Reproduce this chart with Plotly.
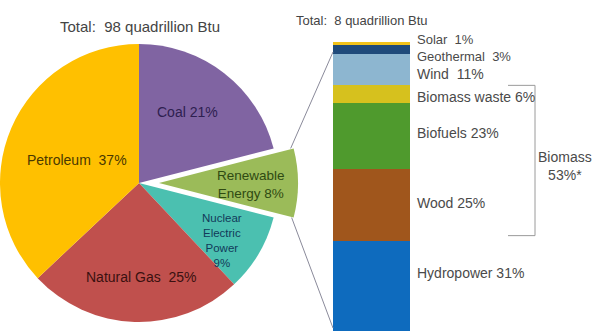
import math
import plotly.graph_objects as go

# ---- data ----
pie_labels = ["Coal", "Renewable Energy", "Nuclear Electric Power", "Natural Gas", "Petroleum"]
pie_values = [21, 8, 9, 25, 37]
pie_colors = ["#8064A2", "#9BBB59", "#4BC0B0", "#C0504D", "#FFC000"]
pie_text = ["Coal 21%", "Renewable<br>Energy 8%", "Nuclear<br>Electric<br>Power<br>9%",
            "Natural Gas  25%", "Petroleum  37%"]

ren_labels = ["Hydropower", "Wood", "Biofuels", "Biomass waste", "Wind", "Geothermal", "Solar"]
ren_values = [31, 25, 23, 6, 11, 3, 1]
ren_colors = ["#0E6BBE", "#A0561C", "#4F9A2D", "#D6C11E", "#8DB6D0", "#1F4A7A", "#F2C21A"]
ren_text = ["Hydropower 31%", "Wood 25%", "Biofuels 23%", "Biomass waste 6%",
            "Wind  11%", "Geothermal  3%", "Solar  1%"]

biomass_parts = ["Wood", "Biofuels", "Biomass waste"]
biomass_label = "Biomass<br>53%*"
title_left = "Total:  98 quadrillion Btu"
title_right = "Total:  8 quadrillion Btu"

# ---- layout geometry (pixels) ----
W, H = 593, 331
cx, cy, r = 139, 183, 139     # pie centre / radius
pull_px = 20                  # exploded renewable slice offset
bar_x0, bar_x1, bar_top = 333, 410, 42
FONT = "Liberation Sans, Arial, sans-serif"

def px(x):
    return x / W

def py(y):
    return 1 - y / H

fig = go.Figure()

# main pie (renewable slice left empty -> gap)
main_colors = [c if l != "Renewable Energy" else "rgba(0,0,0,0)" for l, c in zip(pie_labels, pie_colors)]
fig.add_trace(go.Pie(
    labels=pie_labels, values=pie_values, sort=False, direction="clockwise", rotation=0,
    marker=dict(colors=main_colors, line=dict(width=0)), textinfo="none",
    domain=dict(x=[px(cx - r), px(cx + r)], y=[py(cy + r), py(cy - r)]),
    showlegend=False, hoverinfo="label+percent"))

# exploded renewable slice
ex_colors = [c if l == "Renewable Energy" else "rgba(0,0,0,0)" for l, c in zip(pie_labels, pie_colors)]
fig.add_trace(go.Pie(
    labels=pie_labels, values=pie_values, sort=False, direction="clockwise", rotation=0,
    marker=dict(colors=ex_colors, line=dict(width=0)), textinfo="none",
    domain=dict(x=[px(cx - r + pull_px), px(cx + r + pull_px)], y=[py(cy + r), py(cy - r)]),
    showlegend=False, hoverinfo="skip"))

# stacked renewable bar
for lab, val, col in zip(ren_labels, ren_values, ren_colors):
    fig.add_trace(go.Bar(x=[0], y=[val], name=lab, marker=dict(color=col, line=dict(width=0)),
                         width=1, showlegend=False, xaxis="x", yaxis="y"))

# pie labels (annotations)
pie_pos = {
    "Coal": (187, 112, 14, "#2e2050"),
    "Renewable Energy": (251, 184, 13.5, "#2f4a12"),
    "Nuclear Electric Power": (222, 240, 11.5, "#123a5a"),
    "Natural Gas": (141, 277, 14, "#3a1010"),
    "Petroleum": (77, 160, 14, "#4a3800"),
}
annotations = []
for lab, txt in zip(pie_labels, pie_text):
    x, y, fs, col = pie_pos[lab]
    annotations.append(dict(x=px(x), y=py(y), xref="paper", yref="paper", text=txt,
                            xanchor="center", yanchor="middle",
                            showarrow=False, font=dict(size=fs, color=col, family=FONT),
                            align="center"))

# bar labels at segment midpoints
shifts = {"Hydropower": 13, "Wood": 2, "Biofuels": 3, "Biomass waste": -3,
          "Wind": -5, "Geothermal": -7, "Solar": 4}
sizes = {"Geothermal": 13, "Solar": 13}
cum = 0
mids = {}
bounds = {}
for lab, val, txt in zip(ren_labels, ren_values, ren_text):
    mids[lab] = cum + val / 2
    bounds[lab] = (cum, cum + val)
    annotations.append(dict(x=px(bar_x1 + 6), y=mids[lab], xref="paper", yref="y", text=txt,
                            xanchor="left", yanchor="middle", showarrow=False,
                            yshift=shifts[lab], borderpad=0,
                            font=dict(size=sizes.get(lab, 14), color="#4a4a4a", family=FONT)))
    cum += val
total = cum

bio_lo = min(bounds[b][0] for b in biomass_parts)
bio_hi = max(bounds[b][1] for b in biomass_parts)
annotations.append(dict(x=px(565), y=(bio_lo + bio_hi) / 2, xref="paper", yref="y",
                        text=biomass_label, showarrow=False, align="center",
                        xanchor="center", yanchor="middle", yshift=-3,
                        font=dict(size=14, color="#4a4a4a", family=FONT)))

annotations.append(dict(x=px(140), y=py(26), xref="paper", yref="paper", text=title_left,
                        xanchor="center", yanchor="middle",
                        showarrow=False, font=dict(size=15, color="#444", family=FONT)))
annotations.append(dict(x=px(362), y=py(20), xref="paper", yref="paper", text=title_right,
                        xanchor="center", yanchor="middle", borderpad=0,
                        showarrow=False, font=dict(size=13, color="#444", family=FONT)))

# connector lines from exploded slice corners to bar
frac0 = sum(pie_values[:pie_labels.index("Renewable Energy")]) / sum(pie_values)
frac1 = frac0 + pie_values[pie_labels.index("Renewable Energy")] / sum(pie_values)
a0, a1 = frac0 * 2 * math.pi, frac1 * 2 * math.pi
p0 = (cx + pull_px + r * math.sin(a0), cy - r * math.cos(a0))
p1 = (cx + pull_px + r * math.sin(a1), cy - r * math.cos(a1))
shapes = [
    dict(type="line", xref="paper", yref="paper", x0=px(p0[0] - 3), y0=py(p0[1]),
         x1=px(bar_x0), y1=py(bar_top + 10), line=dict(color="#8a8a9a", width=1)),
    dict(type="line", xref="paper", yref="paper", x0=px(p1[0] - 2), y0=py(p1[1]),
         x1=px(bar_x0), y1=py(H - 3), line=dict(color="#8a8a9a", width=1)),
    # biomass bracket
    dict(type="line", xref="paper", yref="y", x0=px(535), x1=px(535), y0=bio_lo + 2, y1=bio_hi,
         line=dict(color="#9a9a9a", width=1)),
    dict(type="line", xref="paper", yref="y", x0=px(508), x1=px(535), y0=bio_lo + 2, y1=bio_lo + 2,
         line=dict(color="#9a9a9a", width=1)),
    dict(type="line", xref="paper", yref="y", x0=px(508), x1=px(535), y0=bio_hi, y1=bio_hi,
         line=dict(color="#9a9a9a", width=1)),
]

fig.update_layout(
    width=W, height=H, margin=dict(l=0, r=0, t=0, b=0),
    paper_bgcolor="white", plot_bgcolor="white",
    barmode="stack", bargap=0,
    xaxis=dict(domain=[px(bar_x0), px(bar_x1)], range=[-0.5, 0.5], visible=False, fixedrange=True),
    yaxis=dict(domain=[0, py(bar_top)], range=[0, total], visible=False, fixedrange=True),
    annotations=annotations, shapes=shapes,
)

fig.write_html("out.html")
